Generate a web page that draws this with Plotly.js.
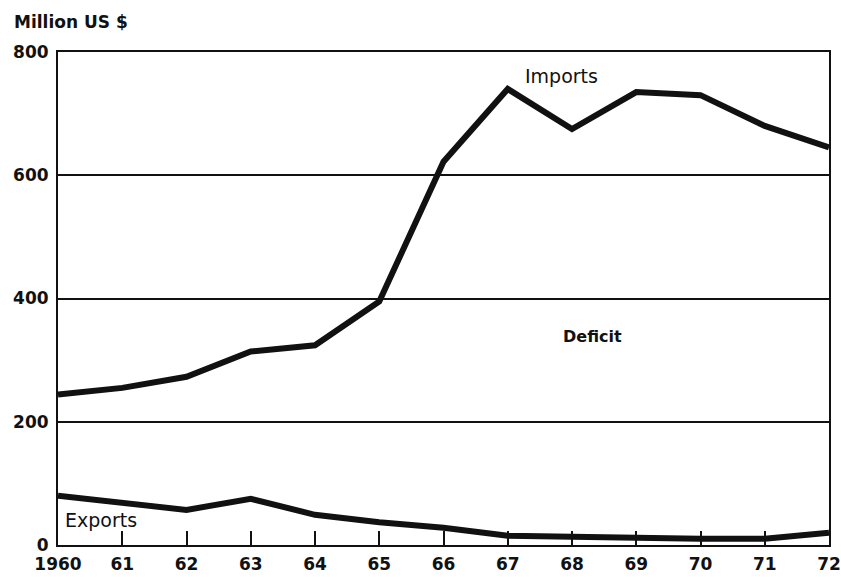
<!DOCTYPE html>
<html>
<head>
<meta charset="utf-8">
<script src="https://cdn.plot.ly/plotly-3.0.1.min.js"></script>
<style>html,body{margin:0;padding:0;background:#fff;}#chart{width:841px;height:577px;}</style>
</head>
<body>
<div id="chart"></div>
<script>
const years = [1960, 1961, 1962, 1963, 1964, 1965, 1966, 1967, 1968, 1969, 1970, 1971, 1972];
const yearLabels = ["1960", "61", "62", "63", "64", "65", "66", "67", "68", "69", "70", "71", "72"];
const imports = [244, 255, 273, 314, 324, 395, 622, 740, 675, 735, 730, 680, 645];
const exports = [80, 68, 57, 75, 49, 37, 28, 15, 13, 11, 10, 10, 20];
const yTicks = [0, 200, 400, 600, 800];

const font = "DejaVu Sans, Verdana, sans-serif";

const traces = [
  {x: years, y: imports, mode: "lines", line: {color: "#111", width: 6}, hoverinfo: "skip", name: "Imports"},
  {x: years, y: exports, mode: "lines", line: {color: "#111", width: 6}, hoverinfo: "skip", name: "Exports"}
];

const layout = {
  width: 841, height: 577,
  margin: {l: 58, r: 12, t: 52, b: 32},
  paper_bgcolor: "#fff", plot_bgcolor: "#fff",
  showlegend: false,
  font: {family: font, color: "#111"},
  xaxis: {
    range: [1960, 1972],
    tickvals: years, ticktext: yearLabels,
    ticks: "inside", ticklen: 14, tickwidth: 2, tickcolor: "#111",
    showgrid: false, zeroline: false,
    showline: true, mirror: true, linecolor: "#111", linewidth: 2,
    ticklabelstandoff: 3,
    tickfont: {family: font, size: 17, color: "#111", weight: "bold"}
  },
  yaxis: {
    range: [0, 800],
    tickvals: yTicks, ticktext: yTicks.map(String),
    ticks: "", showgrid: true, gridcolor: "#111", gridwidth: 2,
    zeroline: false,
    showline: true, mirror: true, linecolor: "#111", linewidth: 2,
    ticklabelstandoff: 4,
    tickfont: {family: font, size: 17, color: "#111", weight: "bold"}
  },
  annotations: [
    {text: "Million US $", xref: "paper", yref: "paper", x: -0.06, y: 1.061, xanchor: "left", yanchor: "middle", showarrow: false, font: {family: font, size: 17, color: "#111", weight: "bold"}},
    {text: "Imports", xref: "x", yref: "y", x: 1967.84, y: 761, xanchor: "center", yanchor: "middle", showarrow: false, font: {family: font, size: 19, color: "#111"}},
    {text: "Deficit", xref: "x", yref: "y", x: 1968.32, y: 338, xanchor: "center", yanchor: "middle", showarrow: false, font: {family: font, size: 16, color: "#111", weight: "bold"}},
    {text: "Exports", xref: "x", yref: "y", x: 1960.08, y: 41, xanchor: "left", yanchor: "middle", showarrow: false, font: {family: font, size: 19, color: "#111"}}
  ]
};

Plotly.newPlot("chart", traces, layout, {staticPlot: true, displayModeBar: false});
</script>
</body>
</html>
